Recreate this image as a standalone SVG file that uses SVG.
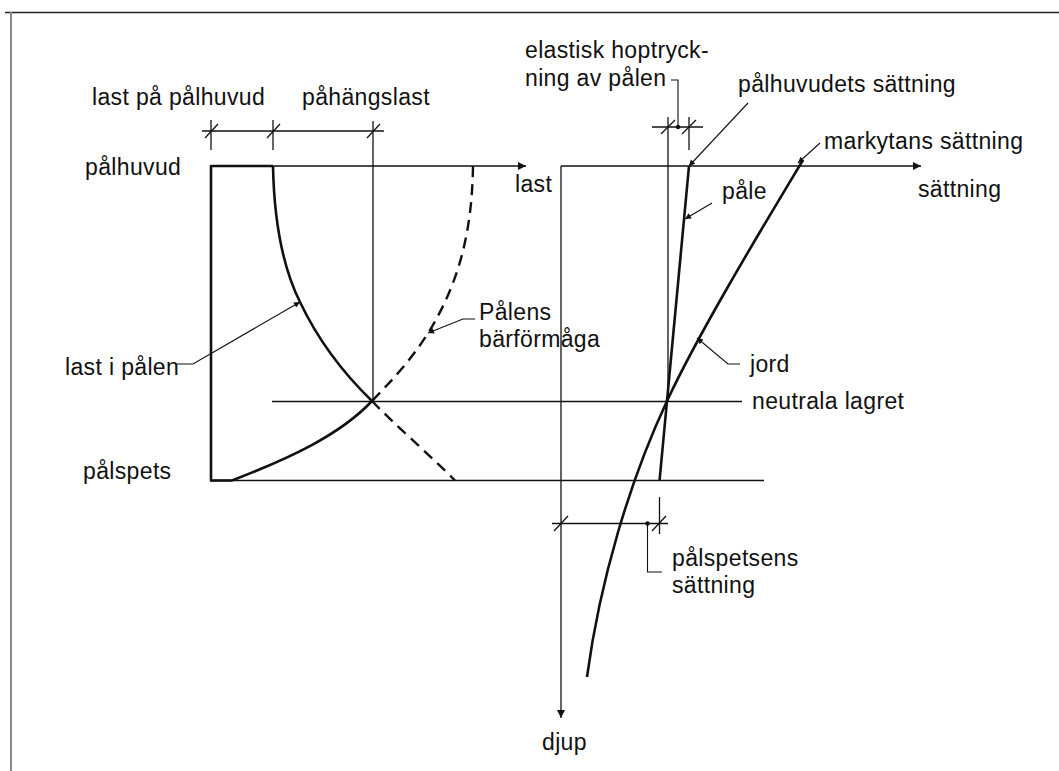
<svg xmlns="http://www.w3.org/2000/svg" width="1059" height="771" viewBox="0 0 1059 771">
<defs>
<style>
text{font-family:"Liberation Sans",Arial,sans-serif;font-size:23px;letter-spacing:0.35px;fill:#111}
.thin{stroke:#111;stroke-width:1.3;fill:none}
.bold{stroke:#111;stroke-width:2.6;fill:none}
.dash{stroke:#111;stroke-width:2.4;fill:none;stroke-dasharray:11 7}
.lead{stroke:#111;stroke-width:1.1;fill:none}
</style>
<marker id="ah" viewBox="0 0 10 10" refX="10" refY="5" markerWidth="22" markerHeight="8" markerUnits="userSpaceOnUse" orient="auto">
<path d="M0,0 L10,5 L0,10 z" fill="#111"/>
</marker>
<marker id="sa" viewBox="0 0 10 10" refX="10" refY="5" markerWidth="17" markerHeight="6" markerUnits="userSpaceOnUse" orient="auto">
<path d="M0,0 L10,5 L0,10 z" fill="#111"/>
</marker>
</defs>
<rect width="1059" height="771" fill="#fff"/>
<g id="frame">
<line x1="5" y1="12.5" x2="1059" y2="12.5" stroke="#222" stroke-width="1.6"/>
<line x1="11" y1="12" x2="11" y2="771" stroke="#888" stroke-width="2"/>
</g>
<g id="connectors">
<line class="thin" x1="211" y1="166" x2="526" y2="166" marker-end="url(#ah)"/>
<line class="thin" x1="211" y1="480.5" x2="764" y2="480.5"/>
<line class="thin" x1="272" y1="401.5" x2="742" y2="401.5"/>
<line class="thin" x1="373" y1="121" x2="373" y2="401"/>
<line class="thin" x1="202" y1="131" x2="384" y2="131"/>
<line class="thin" x1="211" y1="120" x2="211" y2="150"/>
<line class="thin" x1="273" y1="120" x2="273" y2="150"/>
<line class="thin" x1="205" y1="138" x2="218" y2="124"/>
<line class="thin" x1="267" y1="138" x2="280" y2="124"/>
<line class="thin" x1="367" y1="138" x2="380" y2="124"/>
<line class="thin" x1="561" y1="166" x2="921" y2="166" marker-end="url(#ah)"/>
<line class="thin" x1="561" y1="166" x2="561" y2="718" marker-end="url(#ah)"/>
<line class="thin" x1="668" y1="117" x2="668" y2="401"/>
<line class="thin" x1="652" y1="127" x2="703" y2="127"/>
<line class="thin" x1="689" y1="117" x2="689" y2="150"/>
<line class="thin" x1="661" y1="134" x2="675" y2="120"/>
<line class="thin" x1="682" y1="134" x2="696" y2="120"/>
<circle cx="678" cy="127" r="2.2" fill="#111"/>
<polyline class="lead" points="671,80 678,80 678,127"/>
<line class="thin" x1="552" y1="523.5" x2="668" y2="523.5"/>
<line class="thin" x1="659.5" y1="497" x2="659.5" y2="534"/>
<line class="thin" x1="554" y1="531" x2="568" y2="516"/>
<line class="thin" x1="652" y1="531" x2="666" y2="516"/>
<circle cx="647.5" cy="523.5" r="2.2" fill="#111"/>
<polyline class="lead" points="647.5,523.5 647.5,572 662,572"/>
<polyline class="lead" points="177,364 193,364 300,302" marker-end="url(#sa)"/>
<polyline class="lead" points="475,319 463,319 428,333" marker-end="url(#sa)"/>
<line class="lead" x1="748" y1="103" x2="689" y2="166" marker-end="url(#sa)"/>
<line class="lead" x1="820" y1="143" x2="798" y2="163" marker-end="url(#sa)"/>
<line class="lead" x1="712" y1="203" x2="685" y2="219" marker-end="url(#sa)"/>
<polyline class="lead" points="740,364 728,364 697,338" marker-end="url(#sa)"/>
</g>
<g id="pile-load">
<line class="bold" x1="211" y1="166" x2="273" y2="166"/>
<line class="bold" x1="211" y1="165" x2="211" y2="481"/>
<line class="bold" x1="210" y1="480.5" x2="232" y2="480.5"/>
<path class="bold" d="M273,166 C274,215 280,262 300,302 C318,340 340,370 372,401"/>
<path class="bold" d="M372,401 C340,435 290,458 232,480.5"/>
</g>
<g id="capacity">
<path class="dash" d="M473,166 C472,230 460,280 430,330 C410,362 392,380 372,401"/>
<path class="dash" d="M372,401 C395,425 430,455 455,480.5"/>
</g>
<g id="pile">
<line class="bold" x1="689" y1="166" x2="659.5" y2="481"/>
</g>
<g id="soil">
<path class="bold" d="M803,160 C770,215 700,330 667,401 C630,480 600,580 587,677"/>
</g>
<g id="labels">
<text x="92" y="105">last på pålhuvud</text>
<text x="302" y="105">påhängslast</text>
<text x="85" y="175">pålhuvud</text>
<text x="515" y="192">last</text>
<text x="65" y="375">last i pålen</text>
<text x="83" y="479">pålspets</text>
<text x="479" y="320">Pålens</text>
<text x="479" y="347">bärförmåga</text>
<text x="525" y="58">elastisk hoptryck-</text>
<text x="525" y="86">ning av pålen</text>
<text x="738" y="92">pålhuvudets sättning</text>
<text x="824" y="149">markytans sättning</text>
<text x="918" y="197">sättning</text>
<text x="722" y="199">påle</text>
<text x="750" y="372">jord</text>
<text x="752" y="409">neutrala lagret</text>
<text x="672" y="566">pålspetsens</text>
<text x="672" y="593">sättning</text>
<text x="542" y="750">djup</text>
</g>
</svg>
